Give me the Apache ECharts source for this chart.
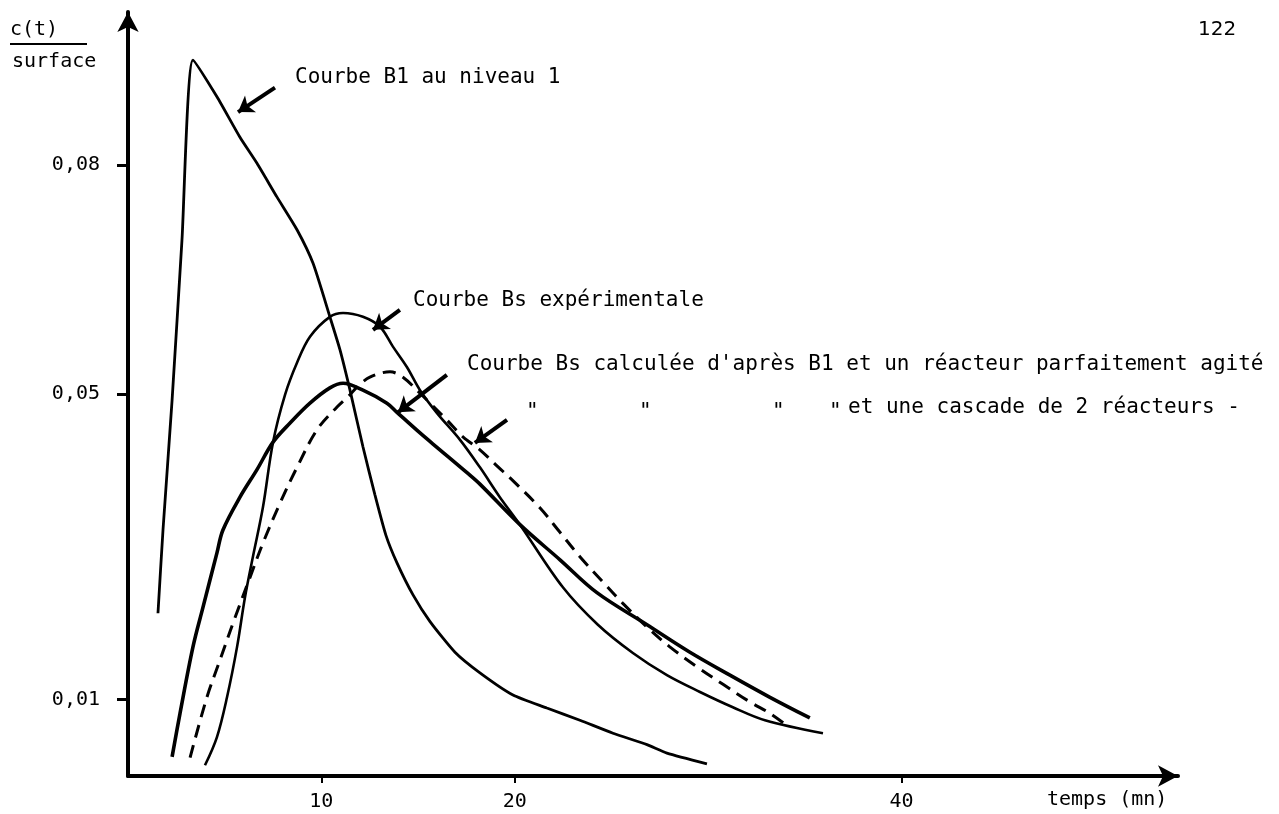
<!DOCTYPE html>
<html>
<head>
<meta charset="utf-8">
<script src="https://cdn.jsdelivr.net/npm/echarts@6/dist/echarts.min.js"></script>
<style>
html, body { margin: 0; padding: 0; background: #fff; }
#chart { width: 1279px; height: 814px; }
</style>
</head>
<body>
<div id="chart"></div>
<script>
var dom = document.getElementById('chart');
var myChart = echarts.init(dom);
var option;

var mono = '"DejaVu Sans Mono", "Liberation Mono", monospace';

// tick labels
var xTicks = [10, 20, 40];
var yTicks = [0.01, 0.05, 0.08];

// Courbe B1 au niveau 1
var b1Time = [1.55, 1.81, 2.28, 2.79, 3.36, 4.60, 5.79, 6.67, 7.70, 8.74, 9.57, 10.44, 10.96,
    11.48, 12.15, 12.77, 13.34, 13.91, 14.74, 15.62, 16.91, 18.20, 19.91, 21.66, 23.37, 25.08, 26.84, 27.87, 29.94];
var b1Conc = [0.0213, 0.0322, 0.0492, 0.0701, 0.0937, 0.0889, 0.0836, 0.0802, 0.0758, 0.0715, 0.0671, 0.0601, 0.0558,
    0.0505, 0.0431, 0.0368, 0.0315, 0.0279, 0.0237, 0.0202, 0.0162, 0.0135, 0.0106, 0.0089, 0.0073, 0.0056, 0.0041, 0.0030, 0.0016];

// Courbe Bs experimentale
var expTime = [3.98, 4.60, 5.12, 5.64, 6.05, 6.46, 6.98, 7.50, 8.12, 8.74, 9.41, 10.44, 11.12, 12.15, 13.03,
    13.70, 14.43, 15.10, 15.98, 17.17, 18.20, 19.23, 20.27, 22.49, 24.30, 26.11, 27.87, 29.58, 31.28, 32.94, 35.94];
var expConc = [0.0014, 0.0051, 0.0103, 0.0169, 0.0234, 0.0287, 0.0352, 0.0437, 0.0499, 0.0541, 0.0575, 0.0601, 0.0606, 0.0601, 0.0588,
    0.0562, 0.0535, 0.0505, 0.0475, 0.0440, 0.0404, 0.0365, 0.0329, 0.0247, 0.0198, 0.0161, 0.0132, 0.0110, 0.0090, 0.0073, 0.0056];

// Courbe Bs calculee, reacteur parfaitement agite
var calcTime = [2.28, 2.69, 3.36, 3.88, 4.60, 4.91, 5.79, 6.67, 7.50, 8.38, 9.41, 10.44, 11.12, 12.15, 13.39,
    13.91, 15.10, 16.13, 17.53, 18.20, 20.27, 22.34, 24.25, 26.84, 29.06, 31.13, 33.20, 35.26];
var calcConc = [0.0025, 0.0082, 0.0169, 0.0221, 0.0292, 0.0322, 0.0365, 0.0401, 0.0437, 0.0462, 0.0488, 0.0508, 0.0514, 0.0505, 0.0488,
    0.0476, 0.0449, 0.0427, 0.0397, 0.0382, 0.0329, 0.0283, 0.0240, 0.0198, 0.0162, 0.0132, 0.0103, 0.0076];

// cascade de 2 reacteurs (tirets)
var cascTime = [3.21, 4.08, 4.76, 5.53, 6.31, 6.98, 7.86, 8.74, 9.77, 10.81, 11.48, 11.84, 12.51, 13.55, 14.22,
    15.10, 15.62, 16.49, 17.32, 18.20, 19.08, 20.01, 21.30, 22.34, 23.37, 24.56, 25.59, 26.84, 28.02, 29.42,
    30.77, 32.16, 33.20, 33.97];
var cascConc = [0.0024, 0.0103, 0.0152, 0.0207, 0.0260, 0.0305, 0.0357, 0.0404, 0.0453, 0.0483, 0.0499, 0.0509, 0.0522, 0.0529, 0.0522,
    0.0501, 0.0488, 0.0466, 0.0444, 0.0427, 0.0406, 0.0384, 0.0351, 0.0319, 0.0287, 0.0254, 0.0226, 0.0195, 0.0169, 0.0143,
    0.0120, 0.0097, 0.0082, 0.0068];

// pointer arrows: [tail time, tail conc, head time, head conc]
var pointers = [
    [7.60, 0.0901, 5.69, 0.0869],
    [14.06, 0.0610, 12.67, 0.0584],
    [16.49, 0.0525, 13.96, 0.0476],
    [19.60, 0.0466, 17.94, 0.0436]
];

function pairs(xs, ys) {
    return xs.map(function (x, i) { return [x, ys[i]]; });
}

function curve(name, xs, ys, width, type, smooth) {
    return {
        name: name,
        type: 'line',
        data: pairs(xs, ys),
        showSymbol: false,
        symbol: 'none',
        smooth: smooth,
        silent: true,
        lineStyle: { color: '#000', width: width, type: type }
    };
}

var series = [
    curve('B1', b1Time, b1Conc, 2.8, 'solid', 0.2),
    curve('Bs exp', expTime, expConc, 2.6, 'solid', 0.35),
    curve('Bs calc', calcTime, calcConc, 3.6, 'solid', 0.35),
    curve('cascade', cascTime, cascConc, 3, [13, 8], 0.35)
];

series[0].markLine = {
    silent: true,
    animation: false,
    symbol: ['none', 'arrow'],
    symbolSize: 15,
    label: { show: false },
    lineStyle: { color: '#000', width: 4, type: 'solid' },
    data: pointers.map(function (p) {
        return [{ coord: [p[0], p[1]] }, { coord: [p[2], p[3]] }];
    })
};

function txt(s, left, top, size, family) {
    return {
        type: 'text', left: left, top: top, silent: true,
        style: { text: s, fill: '#000', font: (size || 21) + 'px ' + (family || mono) }
    };
}

option = {
    animation: false,
    backgroundColor: '#fff',
    grid: { left: 128, right: 101, top: 12, bottom: 38 },
    xAxis: {
        type: 'value',
        min: 0,
        max: 54.3,
        axisLine: { lineStyle: { color: '#000', width: 4 }, symbol: ['none', 'arrow'], symbolSize: [16, 20] },
        axisTick: { customValues: xTicks, length: 7, inside: false, lineStyle: { color: '#000', width: 2 } },
        axisLabel: {
            customValues: xTicks, margin: 16, color: '#000', fontFamily: mono, fontSize: 20,
            formatter: function (v) { return String(v); }
        },
        splitLine: { show: false }
    },
    yAxis: {
        type: 'value',
        min: 0,
        max: 0.1,
        axisLine: { show: true, lineStyle: { color: '#000', width: 4 }, symbol: ['none', 'arrow'], symbolSize: [16, 20] },
        axisTick: { show: true, customValues: yTicks, length: 11, lineStyle: { color: '#000', width: 3 } },
        axisLabel: {
            customValues: yTicks, margin: 28, color: '#000', fontFamily: mono, fontSize: 20,
            formatter: function (v) { return v.toFixed(2).replace('.', ','); }
        },
        splitLine: { show: false }
    },
    graphic: [
        txt('c(t)', 10, 20, 20),
        { type: 'line', silent: true, shape: { x1: 10, y1: 44, x2: 87, y2: 44 }, style: { stroke: '#000', lineWidth: 2 } },
        txt('surface', 12, 52, 20),
        txt('122', 1198, 20, 20, '"DejaVu Sans", sans-serif'),
        txt('Courbe B1 au niveau 1', 295, 67),
        txt('Courbe Bs expérimentale', 413, 290),
        txt('Courbe Bs calculée d\'après B1 et un réacteur parfaitement agité', 467, 354),
        txt('"', 526, 402),
        txt('"', 639, 402),
        txt('"', 772, 402),
        txt('"', 829, 402),
        txt('et une cascade de 2 réacteurs -', 848, 397),
        txt('temps (mn)', 1047, 790, 20)
    ],
    series: series
};

if (option && typeof option === 'object') {
    myChart.setOption(option, true);
}
</script>
</body>
</html>
